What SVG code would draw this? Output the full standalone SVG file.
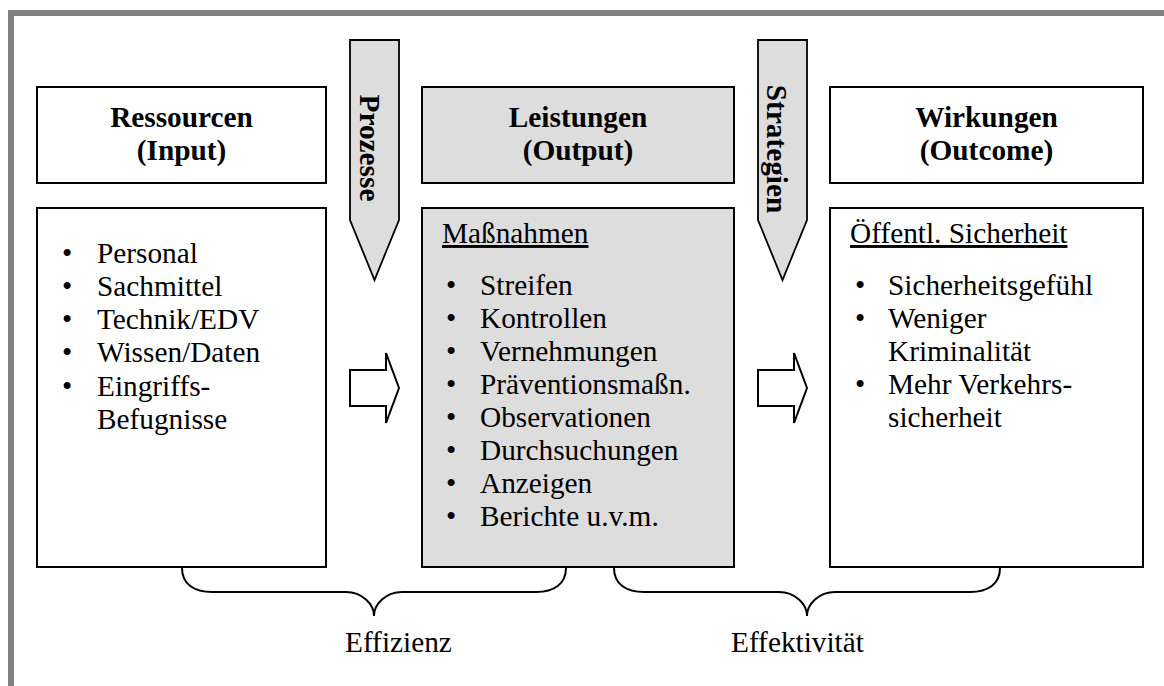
<svg xmlns="http://www.w3.org/2000/svg" width="1164" height="686" viewBox="0 0 1164 686">
  <style>
    text { font-family: "Liberation Serif", "Times New Roman", serif; font-size: 29.3px; fill: #000; }
    .head { font-weight: bold; text-anchor: middle; }
    .box { stroke: #000; stroke-width: 2; fill: #fff; }
    .grey { fill: #dddddd; }
    .pointer { stroke: #000; stroke-width: 1.8; fill: #dddddd; }
    .hollow { stroke: #000; stroke-width: 2; fill: #fff; }
    .brace { stroke: #000; stroke-width: 2; fill: none; }
    .u { text-decoration: underline; }
  </style>

  <!-- frame -->
  <g id="frame">
    <rect x="0" y="0" width="1164" height="686" fill="#fff"/>
    <rect x="8" y="10" width="1156" height="6" fill="#808080"/>
    <rect x="8" y="10" width="6" height="676" fill="#808080"/>
  </g>

  <!-- Ressourcen (Input) -->
  <g id="input">
    <rect class="box" x="37" y="87" width="289" height="96"/>
    <text class="head" x="181.5" y="127">Ressourcen</text>
    <text class="head" x="181.5" y="160">(Input)</text>
    <rect class="box" x="37" y="208" width="289" height="359"/>
    <text x="62" y="263">•</text><text x="97" y="263">Personal</text>
    <text x="62" y="296">•</text><text x="97" y="296">Sachmittel</text>
    <text x="62" y="329">•</text><text x="97" y="329">Technik/EDV</text>
    <text x="62" y="362">•</text><text x="97" y="362">Wissen/Daten</text>
    <text x="62" y="396">•</text><text x="97" y="396">Eingriffs-</text>
    <text x="97" y="429">Befugnisse</text>
  </g>

  <!-- Leistungen (Output) -->
  <g id="output">
    <rect class="box grey" x="422" y="87" width="312" height="96"/>
    <text class="head" x="578" y="127">Leistungen</text>
    <text class="head" x="578" y="160">(Output)</text>
    <rect class="box grey" x="422" y="208" width="312" height="359"/>
    <text class="u" x="442" y="243">Maßnahmen</text>
    <text x="446" y="295">•</text><text x="480" y="295">Streifen</text>
    <text x="446" y="328">•</text><text x="480" y="328">Kontrollen</text>
    <text x="446" y="361">•</text><text x="480" y="361">Vernehmungen</text>
    <text x="446" y="394">•</text><text x="480" y="394">Präventionsmaßn.</text>
    <text x="446" y="427">•</text><text x="480" y="427">Observationen</text>
    <text x="446" y="460">•</text><text x="480" y="460">Durchsuchungen</text>
    <text x="446" y="493">•</text><text x="480" y="493">Anzeigen</text>
    <text x="446" y="526">•</text><text x="480" y="526">Berichte u.v.m.</text>
  </g>

  <!-- Wirkungen (Outcome) -->
  <g id="outcome">
    <rect class="box" x="830" y="87" width="313" height="96"/>
    <text class="head" x="986.5" y="127">Wirkungen</text>
    <text class="head" x="986.5" y="160">(Outcome)</text>
    <rect class="box" x="830" y="208" width="313" height="359"/>
    <text class="u" x="850" y="243">Öffentl. Sicherheit</text>
    <text x="855" y="295">•</text><text x="888" y="295">Sicherheitsgefühl</text>
    <text x="855" y="328">•</text><text x="888" y="328">Weniger</text>
    <text x="888" y="361">Kriminalität</text>
    <text x="855" y="394">•</text><text x="888" y="394">Mehr Verkehrs-</text>
    <text x="888" y="427">sicherheit</text>
  </g>

  <!-- Prozesse pointer -->
  <g id="prozesse">
    <polygon class="pointer" points="350,40 399,40 399,220 374.5,280 350,220"/>
    <text class="head" transform="translate(360,148) rotate(90)">Prozesse</text>
  </g>

  <!-- Strategien pointer -->
  <g id="strategien">
    <polygon class="pointer" points="758,40 807,40 807,220 782.5,280 758,220"/>
    <text class="head" transform="translate(767,149) rotate(90)">Strategien</text>
  </g>

  <!-- connectors -->
  <g id="connectors">
    <polygon class="hollow" points="350,370 386,370 386,353 399,388 386,423 386,406 350,406"/>
    <polygon class="hollow" points="758,370 794,370 794,353 807,388 794,423 794,406 758,406"/>
    <path class="brace" d="M182,568 C182,584 194,592 212,592 L346,592 C362,592 374,604 374,616 C374,604 386,592 402,592 L536,592 C554,592 566,584 566,568"/>
    <path class="brace" d="M614,568 C614,584 626,592 644,592 L779,592 C795,592 807,604 807,616 C807,604 819,592 835,592 L970,592 C988,592 1000,584 1000,568"/>
  </g>

  <!-- brace labels -->
  <g id="labels">
    <text x="345" y="652">Effizienz</text>
    <text x="731" y="652">Effektivität</text>
  </g>
</svg>
